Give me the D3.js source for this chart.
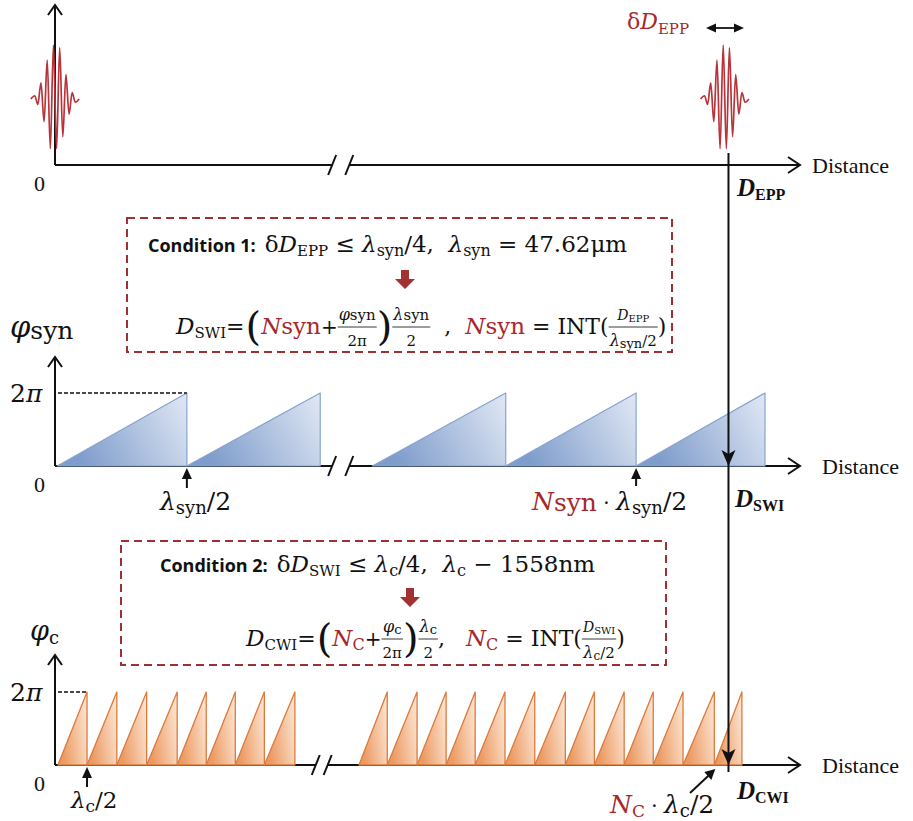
<!DOCTYPE html>
<html>
<head>
<meta charset="utf-8">
<script src="https://cdn.jsdelivr.net/npm/d3@7"></script>
<style>
  body { margin: 0; background: #fff; }
  svg { display: block; }
  text { white-space: pre; }
</style>
</head>
<body>
<div id="chart"></div>
<script>
// afmetingen van de pagina
const width = 913;
const height = 821;

const SERIF = "'Liberation Serif', 'DejaVu Serif', serif";
const MATH = "'DejaVu Serif', serif";
const SANS = "'Open Sans', Lato, sans-serif";
const RED = "#a8282c";

const axisNames = ["Distance", "Distance", "Distance"];
const zeroLabel = "0";
const phaseTick = ["2", "π"];

// synthetische golflengte: tanden [start, eind]
const synTeeth = [[0.3, 17.7], [17.7, 35.6], [42.6, 60.5], [60.5, 78.0], [78.0, 95.3]];
// optische golflengte: tanden [start, eind]
const cTeeth = [
  [0.4, 4.3], [4.3, 8.3], [8.3, 12.3], [12.3, 16.4], [16.4, 20.3], [20.3, 24.2], [24.2, 28.1], [28.1, 32.2],
  [40.8, 44.6], [44.6, 48.6], [48.6, 52.5], [52.5, 56.4], [56.4, 60.4], [60.4, 64.4], [64.4, 68.5],
  [68.5, 72.4], [72.4, 76.4], [76.4, 80.3], [80.3, 84.3], [84.3, 88.5], [88.5, 92.2]
];
// pulsvorm: [dx, amplitude] rond het midden van de puls
const pulseShape = [
  [-3.1, 0], [-2.6, 0.06], [-2.2, -0.1], [-1.8, 0.3], [-1.4, -0.42], [-1.0, 0.72], [-0.6, -0.92],
  [-0.2, 1.0], [0.2, -0.92], [0.6, 0.95], [1.0, -0.7], [1.4, 0.45], [1.8, -0.28], [2.2, 0.12],
  [2.6, -0.06], [3.1, 0]
];
const pulseCenters = [0, 89.9];

// posities van de markeringen
const dMeasured = 90.4;        // D_EPP, D_SWI, D_CWI
const synMarks = [17.7, 78.0]; // λsyn/2 en Nsyn·λsyn/2
const cMarks = [4.3, 88.5];    // λc/2 en Nc·λc/2
const axisBreaks = [[37.2, 39.5], [37.2, 39.5], [35.0, 36.6]];

const svg = d3.select("#chart").append("svg")
    .attr("width", width)
    .attr("height", height);

const defs = svg.append("defs");
function gradient(id, c0, c1) {
  const g = defs.append("linearGradient").attr("id", id)
      .attr("x1", "0%").attr("x2", "100%").attr("y1", "30%").attr("y2", "0%");
  g.append("stop").attr("offset", "0%").attr("stop-color", c0);
  g.append("stop").attr("offset", "100%").attr("stop-color", c1);
}
gradient("blueFill", "#7f9dcc", "#e1e8f4");
gradient("orangeFill", "#eb9a62", "#fde9d8");

// x-schaal voor alle drie de panelen
const xScale = d3.scaleLinear().domain([0, 100]).range([55, 800]);

// y-schalen per paneel
const yTop = d3.scaleLinear().domain([-1, 1]).range([153, 45]);
const ySyn = d3.scaleLinear().domain([0, 2 * Math.PI]).range([466, 393]);
const yC = d3.scaleLinear().domain([0, 2 * Math.PI]).range([765, 692]);

const axisY = [165, 466, 765];
const axisTop = [5, 357, 655];

// ---------- hulpfuncties voor tekst met sub- en breuken ----------
function T(s, sz, o) { return Object.assign({s: s, sz: sz}, o || {}); }

function mathLine(g, x, y, items) {
  let cx = x;
  items.forEach(function (it) { cx += drawItem(g, cx, y, it); });
  return cx - x;
}

function drawItem(g, x, y, it) {
  if (it.gap) return it.gap;
  if (it.frac) {
    const gn = g.append("g"), gd = g.append("g");
    const wn = mathLine(gn, 0, 0, it.frac[0]);
    const wd = mathLine(gd, 0, 0, it.frac[1]);
    const w = Math.max(wn, wd) + 2;
    gn.attr("transform", "translate(" + (x + (w - wn) / 2) + "," + (y - it.up) + ")");
    gd.attr("transform", "translate(" + (x + (w - wd) / 2) + "," + (y + it.down) + ")");
    g.append("line")
        .attr("x1", x).attr("x2", x + w)
        .attr("y1", y - it.bar).attr("y2", y - it.bar)
        .attr("stroke", "#222").attr("stroke-width", 0.9);
    return w;
  }
  const t = g.append("text")
      .attr("x", x).attr("y", y + (it.dy || 0))
      .attr("font-family", it.f || MATH)
      .attr("font-size", it.sz)
      .attr("font-style", it.i ? "italic" : null)
      .attr("font-weight", it.b ? "bold" : null)
      .attr("fill", it.c || "#111")
      .text(it.s);
  return t.node().getComputedTextLength() + (it.pad || 0);
}

// ---------- assen ----------
function drawAxis(k) {
  const g = svg.append("g").attr("class", "axis" + k);
  const y0 = axisY[k];
  const x0 = xScale(0);
  const br = axisBreaks[k];
  // y-as
  g.append("line").attr("x1", x0).attr("x2", x0).attr("y1", axisTop[k]).attr("y2", y0)
      .attr("stroke", "#111").attr("stroke-width", 2);
  g.append("path").attr("d", "M" + (x0 - 7) + "," + (axisTop[k] + 10) + "L" + x0 + "," + axisTop[k] + "L" + (x0 + 7) + "," + (axisTop[k] + 10))
      .attr("fill", "none").attr("stroke", "#111").attr("stroke-width", 2);
  // x-as met onderbreking
  g.append("line").attr("x1", x0).attr("x2", xScale(br[0])).attr("y1", y0).attr("y2", y0)
      .attr("stroke", "#111").attr("stroke-width", 2);
  g.append("line").attr("x1", xScale(br[1])).attr("x2", xScale(100)).attr("y1", y0).attr("y2", y0)
      .attr("stroke", "#111").attr("stroke-width", 2);
  br.forEach(function (b) {
    g.append("line").attr("x1", xScale(b) - 4).attr("x2", xScale(b) + 4)
        .attr("y1", y0 + 10).attr("y2", y0 - 10)
        .attr("stroke", "#111").attr("stroke-width", 2);
  });
  const xe = xScale(100);
  g.append("path").attr("d", "M" + (xe - 12) + "," + (y0 - 8) + "L" + xe + "," + y0 + "L" + (xe - 12) + "," + (y0 + 8))
      .attr("fill", "none").attr("stroke", "#111").attr("stroke-width", 2);
  g.append("text").attr("x", xe + (k === 0 ? 12 : 22)).attr("y", y0 + 8)
      .attr("font-family", SERIF).attr("font-size", 22).attr("fill", "#111")
      .text(axisNames[k]);
  g.append("text").attr("x", 34).attr("y", y0 + 26)
      .attr("font-family", SERIF).attr("font-size", 22).attr("fill", "#111")
      .text(zeroLabel);
}
[0, 1, 2].forEach(drawAxis);

// ---------- pulsen ----------
const pulseLine = d3.line()
    .x(function (d) { return d[0]; })
    .y(function (d) { return yTop(d[1]); })
    .curve(d3.curveMonotoneX);
pulseCenters.forEach(function (c) {
  const pts = pulseShape.map(function (p) { return [xScale(c) + p[0] * 7.8, p[1]]; });
  svg.append("path").attr("d", pulseLine(pts))
      .attr("fill", "none").attr("stroke", "#b8333a").attr("stroke-width", 1.7);
});

// δD_EPP met dubbele pijl
mathLine(svg, 627, 29, [T("δ", 22, {c: RED}), T("D", 22, {i: true, c: RED}), T("EPP", 15, {c: RED, dy: 5})]);
(function () {
  const y = 28, a = 706, b = 744;
  svg.append("line").attr("x1", a + 4).attr("x2", b - 4).attr("y1", y).attr("y2", y).attr("stroke", "#111").attr("stroke-width", 1.8);
  svg.append("path").attr("d", "M" + a + "," + y + "l10,-4.5l0,9z M" + b + "," + y + "l-10,-4.5l0,9z")
      .attr("fill", "#111");
})();

// ---------- zaagtanden ----------
function drawTeeth(data, yS, fill, stroke, sw) {
  svg.append("g").selectAll("path")
    .data(data)
    .join("path")
      .attr("d", function (d) {
        return "M" + xScale(d[0]) + "," + yS(0) +
               "L" + xScale(d[1]) + "," + yS(2 * Math.PI) +
               "L" + xScale(d[1]) + "," + yS(0) + "Z";
      })
      .attr("fill", fill)
      .attr("stroke", stroke)
      .attr("stroke-width", sw)
      .attr("stroke-linejoin", "round");
}
drawTeeth(synTeeth, ySyn, "url(#blueFill)", "#87a3cf", 1.2);
drawTeeth(cTeeth, yC, "url(#orangeFill)", "#dc7a3e", 1.3);

// stippellijnen bij 2π
svg.append("line").attr("x1", xScale(0) + 3).attr("x2", xScale(synTeeth[0][1])).attr("y1", ySyn(2 * Math.PI)).attr("y2", ySyn(2 * Math.PI))
    .attr("stroke", "#111").attr("stroke-width", 1.3).attr("stroke-dasharray", "4,2");
svg.append("line").attr("x1", xScale(0) + 3).attr("x2", xScale(cTeeth[0][1])).attr("y1", yC(2 * Math.PI)).attr("y2", yC(2 * Math.PI))
    .attr("stroke", "#111").attr("stroke-width", 1.3).attr("stroke-dasharray", "4,2");

// 2π labels
[ySyn, yC].forEach(function (yS) {
  mathLine(svg, 10, yS(2 * Math.PI) + 9, [T(phaseTick[0], 25), T(phaseTick[1], 25, {i: true})]);
});

// y-as labels
mathLine(svg, 10, 337, [T("φ", 29, {i: true}), T("syn", 25, {dy: 2})]);
mathLine(svg, 30, 640, [T("φ", 27, {i: true}), T("c", 18, {dy: 4})]);

// ---------- verticale lijn D ----------
const xD = xScale(dMeasured);
svg.append("line").attr("x1", xD).attr("x2", xD).attr("y1", 153).attr("y2", 772)
    .attr("stroke", "#111").attr("stroke-width", 2);
[axisY[1], axisY[2]].forEach(function (y) {
  svg.append("path").attr("d", "M" + xD + "," + y + "l-7,-16l7,4l7,-4z").attr("fill", "#111");
});
mathLine(svg, 737, 196, [T("D", 25, {f: SERIF, i: true, b: true}), T("EPP", 16, {f: SERIF, b: true, dy: 4})]);
mathLine(svg, 735, 507, [T("D", 25, {f: SERIF, i: true, b: true}), T("SWI", 16, {f: SERIF, b: true, dy: 4})]);
mathLine(svg, 737, 799, [T("D", 25, {f: SERIF, i: true, b: true}), T("CWI", 16, {f: SERIF, b: true, dy: 4})]);

// ---------- kleine pijltjes onder de as ----------
function upArrow(x, yTip, len) {
  svg.append("line").attr("x1", x).attr("x2", x).attr("y1", yTip + 6).attr("y2", yTip + len)
      .attr("stroke", "#111").attr("stroke-width", 2);
  svg.append("path").attr("d", "M" + x + "," + yTip + "l-5,11l10,0z").attr("fill", "#111");
}
upArrow(xScale(synMarks[0]), axisY[1] + 2, 20);
upArrow(xScale(synMarks[1]), axisY[1] + 2, 18);
upArrow(xScale(cMarks[0]), axisY[2] + 2, 20);
// schuine pijl bij Nc
(function () {
  const tx = xScale(cMarks[1]) + 1, ty = axisY[2] + 4;
  svg.append("line").attr("x1", 690).attr("x2", tx - 4).attr("y1", 793).attr("y2", ty + 4)
      .attr("stroke", "#111").attr("stroke-width", 2);
  svg.append("path").attr("d", "M" + tx + "," + ty + "l-4,11l-7,-8z").attr("fill", "#111");
})();

mathLine(svg, 160, 510, [T("λ", 25, {i: true}), T("syn", 18, {dy: 4}), T("/2", 25)]);
mathLine(svg, 532, 510, [T("N", 25, {i: true, c: RED}), T("syn", 25, {c: RED, dy: 1}), T(" · ", 20), T("λ", 25, {i: true}), T("syn", 18, {dy: 4}), T("/2", 25)]);
mathLine(svg, 71, 808, [T("λ", 23, {i: true}), T("c", 17, {dy: 4}), T("/2", 23)]);
mathLine(svg, 610, 813, [T("N", 25, {i: true, c: RED}), T("C", 17, {c: RED, dy: 4}), T(" · ", 20), T("λ", 25, {i: true}), T("c", 18, {dy: 4}), T("/2", 25)]);

// ---------- kaders met condities ----------
function box(x, y, w, h) {
  svg.append("rect").attr("x", x).attr("y", y).attr("width", w).attr("height", h)
      .attr("fill", "none").attr("stroke", "#a0302f").attr("stroke-width", 2)
      .attr("stroke-dasharray", "8,5");
}
function downArrow(x, y) {
  svg.append("path")
      .attr("d", "M" + (x - 4) + "," + y + "h8v9h6l-10,10l-10,-10h6z")
      .attr("fill", "#a33131");
}
box(127, 218, 545, 134);
box(121, 541, 545, 124);
downArrow(405, 270);
downArrow(410, 588);

// conditie 1
mathLine(svg, 148, 252, [
  T("Condition 1:", 18, {f: SANS, b: true, pad: 9}),
  T("δ", 23), T("D", 23, {i: true}), T("EPP", 15, {dy: 4}), T(" ≤ ", 23),
  T("λ", 23, {i: true}), T("syn", 16, {dy: 4}), T("/4,  ", 23),
  T("λ", 23, {i: true}), T("syn", 16, {dy: 4}), T(" = 47.62μm", 23)
]);
// formule 1
const fr = {up: 14, down: 12, bar: 7};
mathLine(svg, 176, 334, [
  T("D", 23, {i: true}), T("SWI", 15, {dy: 4}), T("=", 22, {pad: 1}),
  T("(", 40, {dy: 6}),
  T("N", 23, {i: true, c: RED}), T("syn", 23, {c: RED}), T("+", 20),
  Object.assign({frac: [[T("φ", 16, {i: true}), T("syn", 15)], [T("2π", 15)]]}, fr),
  T(")", 40, {dy: 6}),
  Object.assign({frac: [[T("λ", 16, {i: true}), T("syn", 15)], [T("2", 15)]]}, fr),
  T("  ,  ", 22),
  T("N", 23, {i: true, c: RED}), T("syn", 23, {c: RED}), T(" = INT(", 22),
  Object.assign({frac: [[T("D", 14, {i: true}), T("EPP", 10, {dy: 2})], [T("λ", 16, {i: true}), T("syn", 13, {dy: 2}), T("/2", 15)]]}, fr),
  T(")", 22)
]);

// conditie 2
mathLine(svg, 160, 572, [
  T("Condition 2:", 18, {f: SANS, b: true, pad: 9}),
  T("δ", 23), T("D", 23, {i: true}), T("SWI", 15, {dy: 4}), T(" ≤ ", 23),
  T("λ", 23, {i: true}), T("c", 16, {dy: 4}), T("/4,  ", 23),
  T("λ", 23, {i: true}), T("c", 16, {dy: 4}), T(" − 1558nm", 23)
]);
// formule 2
mathLine(svg, 246, 646, [
  T("D", 23, {i: true}), T("CWI", 15, {dy: 4}), T("=", 22, {pad: 1}),
  T("(", 40, {dy: 6}),
  T("N", 23, {i: true, c: RED}), T("C", 16, {c: RED, dy: 4}), T("+", 20),
  Object.assign({frac: [[T("φ", 16, {i: true}), T("c", 13, {dy: 2})], [T("2π", 15)]]}, fr),
  T(")", 40, {dy: 6}),
  Object.assign({frac: [[T("λ", 16, {i: true}), T("c", 13, {dy: 2})], [T("2", 15)]]}, fr),
  T(",   ", 22),
  T("N", 23, {i: true, c: RED}), T("C", 16, {c: RED, dy: 4}), T(" = INT(", 22),
  Object.assign({frac: [[T("D", 14, {i: true}), T("SWI", 10, {dy: 2})], [T("λ", 16, {i: true}), T("c", 12, {dy: 2}), T("/2", 15)]]}, fr),
  T(")", 22)
]);
</script>
</body>
</html>
